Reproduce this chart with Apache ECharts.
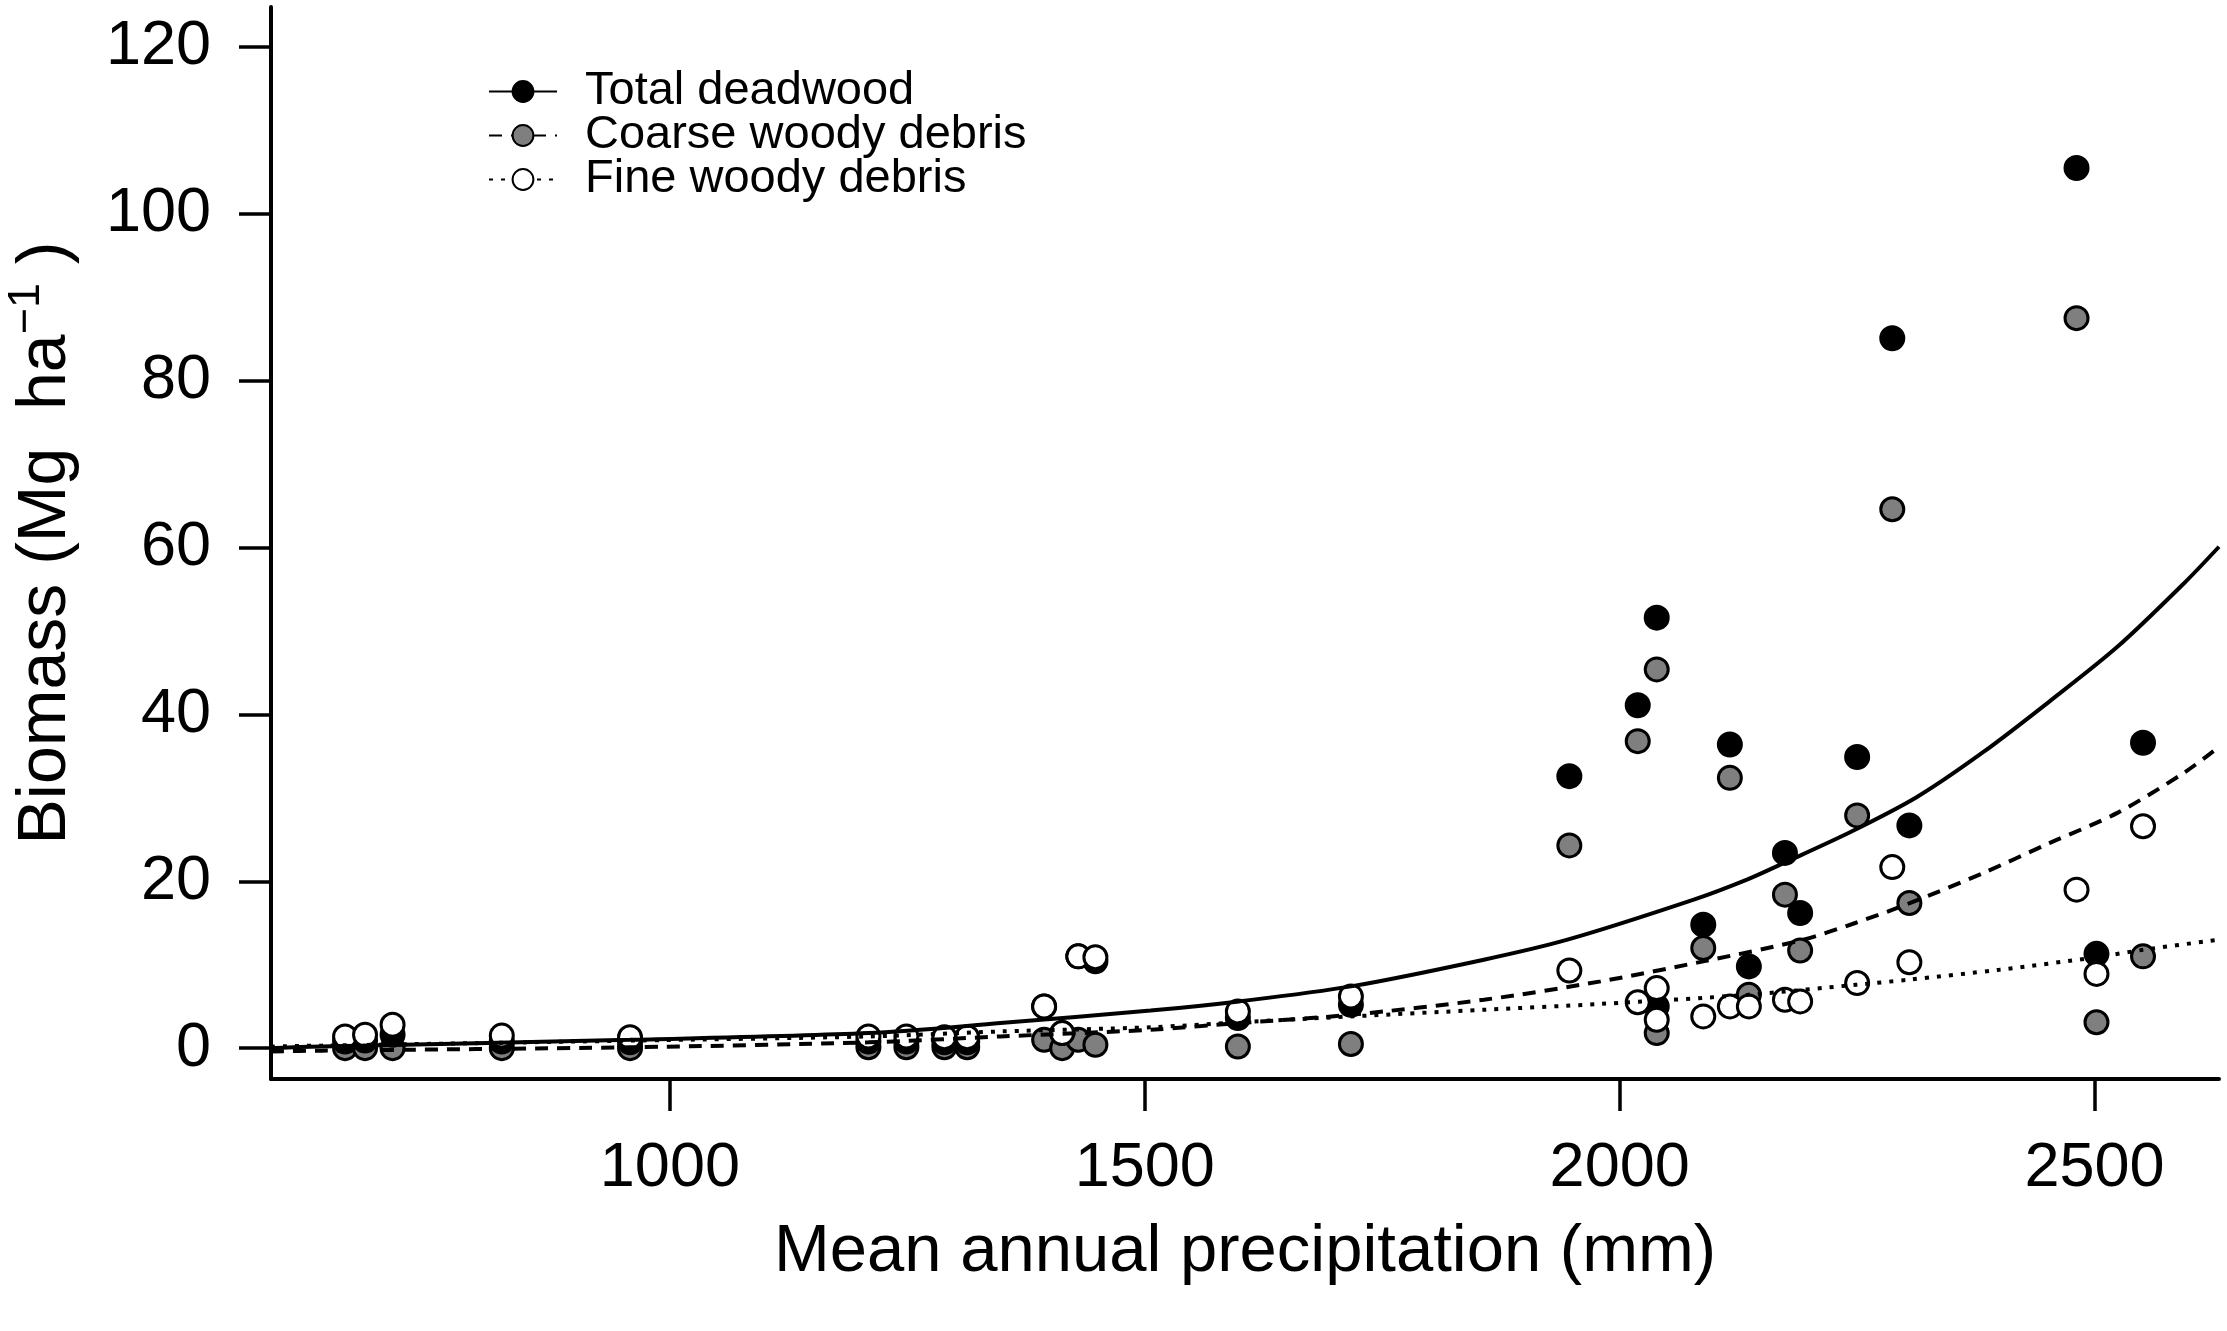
<!DOCTYPE html>
<html>
<head>
<meta charset="utf-8">
<title>Deadwood biomass vs mean annual precipitation</title>
<script src="https://cdn.jsdelivr.net/npm/echarts@6.0.0/dist/echarts.min.js"></script>
<style>
    html, body { margin: 0; padding: 0; background: #fff; }
    #chart { width: 2227px; height: 1331px; }
</style>
</head>
<body>
<div id="chart"></div>
<script>
    // sites: mean annual precipitation (mm)
    var precip = [658, 679, 708, 823, 958, 1209, 1249, 1289, 1313, 1394, 1413, 1430, 1448, 1598, 1717,
        1947, 2019, 2039, 2039, 2088, 2116, 2136, 2174, 2190, 2250, 2287, 2305, 2481, 2502, 2551];

    // biomass (Mg ha-1) per site
    var totalDead = [0.8, 0.9, 1.6, 0.8, 0.7, 0.8, 0.8, 0.7, 0.7, 5.0, 1.8, 11.0, 10.4, 3.6, 5.2,
        32.6, 41.1, 51.6, 5.0, 14.8, 36.4, 9.8, 23.4, 16.2, 34.9, 85.1, 26.7, 105.5, 11.3, 36.6];
    var coarseDebris = [0.0, 0.0, 0.0, 0.0, 0.0, 0.1, 0.1, 0.1, 0.1, 1.0, 0.0, 1.0, 0.4, 0.2, 0.5,
        24.3, 36.8, 45.4, 1.8, 12.0, 32.4, 6.4, 18.4, 11.7, 27.9, 64.6, 17.4, 87.5, 3.1, 11.0];
    var fineDebris = [1.4, 1.6, 2.8, 1.5, 1.3, 1.4, 1.4, 1.3, 1.3, 5.0, 1.8, 11.0, 10.9, 4.4, 6.2,
        9.3, 5.5, 7.2, 3.4, 3.8, 5.0, 5.0, 5.8, 5.6, 7.8, 21.7, 10.3, 19.0, 8.9, 26.6];

    // fitted curves
    var totalFitX = [580, 633, 958, 1209, 1348, 1506, 1599, 1717, 1857, 1945, 2078, 2134, 2173, 2243, 2313, 2383, 2453, 2524, 2594, 2631];
    var totalFitY = [0.0, 0.2, 1.0, 1.8, 3.0, 4.5, 5.6, 7.4, 10.6, 13.0, 17.8, 20.2, 22.2, 25.9, 30.1, 35.5, 41.6, 48.1, 55.7, 60.1];
    var coarseFitX = [580, 633, 958, 1209, 1348, 1506, 1599, 1717, 1857, 1980, 2088, 2190, 2248, 2306, 2383, 2453, 2524, 2594, 2631];
    var coarseFitY = [-0.4, -0.3, 0.1, 0.7, 1.4, 2.2, 3.0, 4.0, 5.8, 8.0, 10.4, 12.9, 15.0, 17.4, 21.0, 24.6, 28.2, 33.0, 36.1];
    var fineFitX = [580, 633, 958, 1209, 1348, 1506, 1599, 1717, 1857, 1980, 2135, 2249, 2304, 2400, 2502, 2552, 2631];
    var fineFitY = [0.2, 0.3, 0.9, 1.4, 2.0, 2.5, 3.1, 3.8, 4.6, 5.3, 6.4, 7.6, 8.2, 9.4, 10.9, 11.8, 13.0];

    // axis ticks
    var xTicks = [1000, 1500, 2000, 2500];
    var yTicks = [0, 20, 40, 60, 80, 100, 120];

    var seriesNames = ['Total deadwood', 'Coarse woody debris', 'Fine woody debris'];
    var font = 'Liberation Sans, Arial, sans-serif';

    function pairs(xs, ys){
        return xs.map(function(x, i){ return [x, ys[i]]; });
    }

    var myChart = echarts.init(document.getElementById('chart'), null, { renderer: 'canvas' });

    function fitLine(name, xs, ys, fill, dash){
        return {
            name: name,
            type: 'line',
            data: pairs(xs, ys),
            smooth: 0.3,
            symbol: 'circle',
            showSymbol: false,
            z: 4,
            lineStyle: { color: '#000', width: 4, type: dash },
            itemStyle: { color: fill, borderColor: '#000', borderWidth: 3 }
        };
    }

    function points(name, ys, fill){
        return {
            name: name,
            type: 'scatter',
            data: pairs(precip, ys),
            symbol: 'circle',
            symbolSize: 23,
            z: 2,
            itemStyle: { color: fill, borderColor: '#000', borderWidth: 3, opacity: 1 }
        };
    }

    var option = {
        animation: false,
        backgroundColor: '#fff',
        grid: { left: 271, right: 8, top: 7, bottom: 252, outerBoundsMode: 'none' },
        legend: {
            data: seriesNames,
            orient: 'vertical',
            left: 483,
            top: 63,
            itemWidth: 68,
            itemHeight: 26,
            itemGap: -3,
            selectedMode: false,
            textStyle: { fontFamily: font, fontSize: 47, color: '#000', lineHeight: 44, padding: [0, 0, 0, 23] }
        },
        xAxis: {
            type: 'value',
            min: 580,
            max: 2631,
            name: 'Mean annual precipitation (mm)',
            nameLocation: 'middle',
            nameGap: 140,
            nameTextStyle: { fontFamily: font, fontSize: 67, color: '#000' },
            axisLine: { onZero: false, lineStyle: { color: '#000', width: 4 } },
            axisTick: { customValues: xTicks, length: 32, lineStyle: { color: '#000', width: 3.5 } },
            axisLabel: {
                customValues: xTicks, margin: 58, fontFamily: font, fontSize: 63, color: '#000',
                formatter: function(v){ return String(v); }
            },
            splitLine: { show: false }
        },
        yAxis: {
            type: 'value',
            min: -3.7,
            max: 124.8,
            name: 'Biomass (Mg  ha{sup|\u22121} )',
            nameLocation: 'middle',
            nameRotate: 90,
            nameGap: 183,
            nameTextStyle: {
                fontFamily: font, fontSize: 68, color: '#000', lineHeight: 84,
                rich: { sup: { fontFamily: font, fontSize: 45, color: '#000', lineHeight: 45, verticalAlign: 'top' } }
            },
            axisLine: { onZero: false, lineStyle: { color: '#000', width: 4 } },
            axisTick: { customValues: yTicks, length: 32, lineStyle: { color: '#000', width: 3.5 } },
            axisLabel: {
                customValues: yTicks, margin: 60, fontFamily: font, fontSize: 63, color: '#000',
                formatter: function(v){ return String(v); }
            },
            splitLine: { show: false }
        },
        series: [
            fitLine(seriesNames[0], totalFitX, totalFitY, '#000', 'solid'),
            fitLine(seriesNames[1], coarseFitX, coarseFitY, '#7f7f7f', [13, 9]),
            fitLine(seriesNames[2], fineFitX, fineFitY, '#fff', [4, 8]),
            points(seriesNames[1], coarseDebris, '#7f7f7f'),
            points(seriesNames[0], totalDead, '#000'),
            points(seriesNames[2], fineDebris, '#fff')
        ]
    };

    myChart.setOption(option);
</script>
</body>
</html>
